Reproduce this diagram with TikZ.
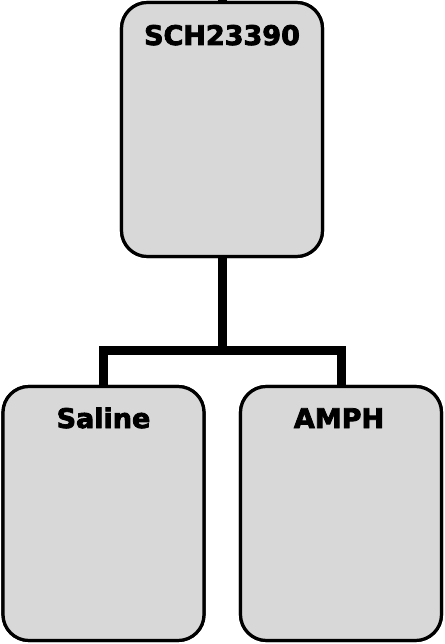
\documentclass[tikz,border=0pt]{standalone}
\usepackage{fontspec}
\setmainfont{DejaVu Sans}
\newfontfamily\heavyfont[FakeBold=3]{DejaVu Sans Bold}
\begin{document}
\begin{tikzpicture}[x=1pt,y=-1pt,
  box/.style={draw=black,line width=3.2pt,fill=boxgray,rounded corners=26pt,minimum width=201pt,minimum height=254pt,inner sep=0pt},
  lbl/.style={font=\fontsize{27}{30}\heavyfont\selectfont,inner sep=0pt,anchor=base},
  conn/.style={line width=9pt,line join=miter,line cap=butt}]
\definecolor{boxgray}{HTML}{D8D8D8}
\useasboundingbox (0,0) rectangle (444,644);
\coordinate (j) at (222,350);
\coordinate (topend) at (222,-5);
\node[box] (top) at (222,129.5) {};
\node[box] (left) at (103.5,513.5) {};
\node[box] (right) at (341,513.5) {};
\draw[conn] (top.south) -- (j);
\draw[conn] (left.north) |- (j) -| (right.north);
\draw[conn] (top.north) -- (topend);
\node[box] at (top) {};
\node[box] at (left) {};
\node[box] at (right) {};
\node[lbl] (t1) at (222,45) {SCH23390};
\node[lbl] (t2) at (103.5,428) {Saline};
\node[lbl] (t3) at (339,428) {AMPH};
\end{tikzpicture}
\end{document}
